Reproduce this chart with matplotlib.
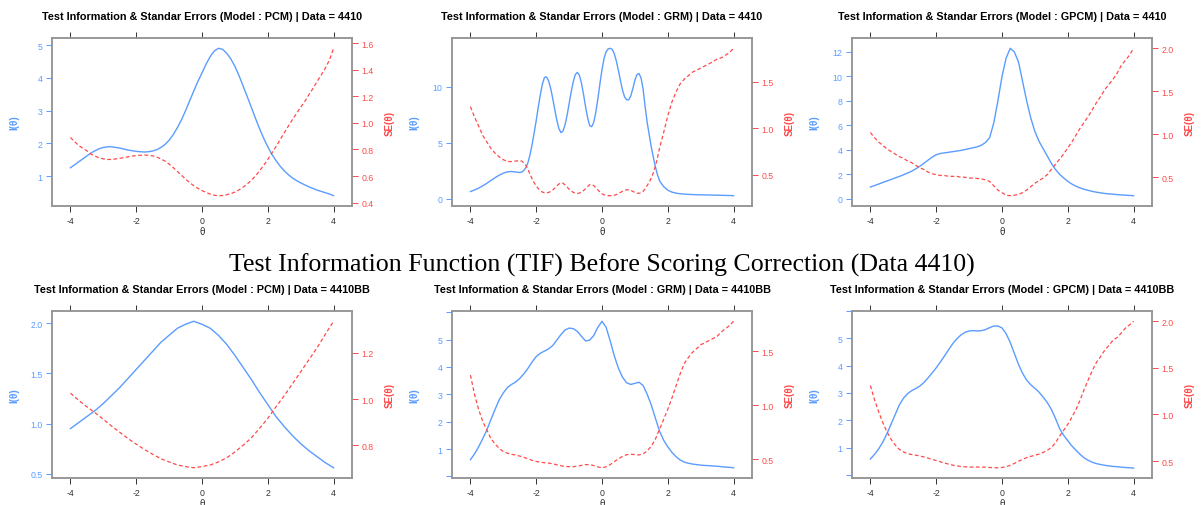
import numpy as np
import matplotlib
matplotlib.use("Agg")
from matplotlib import pyplot as plt

# theta grids
theta_coarse = np.linspace(-4, 4, 33)   # step 0.25
theta_fine = np.linspace(-4, 4, 65)     # step 0.125
# GRM 4410 has narrow peaks, so it is read more densely in the middle
theta_grm = np.concatenate([np.linspace(-4, -2.625, 12),
                            np.linspace(-2.5, 1.6875, 68),
                            np.linspace(1.75, 4, 19)])

# ---- Data 4410 ----
pcm_info = [1.26, 1.35, 1.44, 1.53, 1.62, 1.71, 1.78, 1.84, 1.88, 1.90, 1.90, 1.88, 1.86,
            1.83, 1.80, 1.78, 1.76, 1.75, 1.74, 1.75, 1.77, 1.81, 1.88, 1.97, 2.10, 2.27,
            2.48, 2.72, 3.00, 3.30, 3.60, 3.89, 4.15, 4.42, 4.65, 4.82, 4.90, 4.87, 4.75,
            4.58, 4.35, 4.07, 3.75, 3.43, 3.10, 2.77, 2.45, 2.16, 1.90, 1.67, 1.48, 1.31,
            1.17, 1.05, 0.95, 0.87, 0.80, 0.74, 0.68, 0.63, 0.58, 0.54, 0.50, 0.46, 0.41]
pcm_se = [0.89, 0.86, 0.83, 0.81, 0.79, 0.765, 0.75, 0.737, 0.729, 0.725, 0.725, 0.729,
          0.733, 0.739, 0.745, 0.75, 0.754, 0.756, 0.758, 0.756, 0.752, 0.743, 0.729,
          0.712, 0.69, 0.664, 0.635, 0.606, 0.577, 0.55, 0.527, 0.507, 0.491, 0.476,
          0.464, 0.455, 0.452, 0.453, 0.459, 0.467, 0.479, 0.496, 0.516, 0.54, 0.568,
          0.601, 0.639, 0.68, 0.725, 0.774, 0.822, 0.874, 0.925, 0.976, 1.026, 1.072,
          1.118, 1.162, 1.213, 1.26, 1.313, 1.361, 1.414, 1.474, 1.562]

grm_info = [0.66, 0.80, 0.97, 1.17, 1.40, 1.65, 1.90, 2.12, 2.30, 2.42, 2.45, 2.40,
            2.36, 2.40, 2.55, 2.80, 3.25, 3.95, 4.85, 5.90, 7.00, 8.20, 9.30, 10.25, 10.85,
            10.90, 10.55, 9.90, 9.00, 8.00, 7.05, 6.30, 5.92, 6.05, 6.60, 7.45, 8.50, 9.55,
            10.45, 11.10, 11.30, 11.05, 10.35, 9.35, 8.25, 7.25, 6.55, 6.45, 6.85, 7.75, 8.95,
            10.30, 11.55, 12.55, 13.15, 13.40, 13.45, 13.35, 12.95, 12.30, 11.45, 10.55, 9.70,
            9.10, 8.85, 8.85, 9.20, 9.85, 10.60, 11.10, 11.20, 10.80, 9.80, 8.20, 6.80, 5.70,
            4.60, 3.70, 2.85, 2.15,
            1.62, 1.10, 0.78, 0.61, 0.52, 0.46, 0.43, 0.41, 0.39, 0.38, 0.37, 0.36, 0.35,
            0.34, 0.33, 0.325, 0.315, 0.305, 0.29]
grm_se = [1.23, 1.12, 1.02, 0.92, 0.85, 0.78, 0.73, 0.69, 0.66, 0.64, 0.64, 0.645,
          0.651, 0.645, 0.626, 0.598, 0.555, 0.503, 0.454, 0.412, 0.378, 0.349, 0.328, 0.312,
          0.304, 0.303, 0.308, 0.318, 0.333, 0.354, 0.377, 0.398, 0.411, 0.407, 0.389, 0.366,
          0.343, 0.324, 0.309, 0.300, 0.297, 0.301, 0.311, 0.327, 0.348, 0.371, 0.391, 0.394,
          0.382, 0.359, 0.334, 0.312, 0.294, 0.282, 0.276, 0.273, 0.273, 0.274, 0.278, 0.285,
          0.296, 0.308, 0.321, 0.331, 0.336, 0.336, 0.330, 0.319, 0.307, 0.300, 0.299, 0.304,
          0.319, 0.349, 0.383, 0.419, 0.466, 0.520, 0.592, 0.682,
          0.786, 0.953, 1.132, 1.280, 1.387, 1.474, 1.525, 1.562, 1.601, 1.622, 1.644, 1.667,
          1.690, 1.715, 1.741, 1.754, 1.782, 1.811, 1.857]

gpcm_info = [0.96, 1.08, 1.20, 1.33, 1.45, 1.57, 1.70, 1.82, 1.95, 2.10, 2.25, 2.44, 2.65,
             2.90, 3.15, 3.40, 3.60, 3.70, 3.75, 3.80, 3.85, 3.90, 3.95, 4.02, 4.10, 4.17,
             4.25, 4.38, 4.60, 5.00, 6.20, 8.00, 10.0, 11.5, 12.3, 12.0, 11.2, 9.60, 8.00,
             6.60, 5.50, 4.70, 4.10, 3.50, 2.90, 2.40, 2.00, 1.70, 1.42, 1.20, 1.02, 0.88,
             0.77, 0.68, 0.60, 0.53, 0.48, 0.43, 0.40, 0.37, 0.34, 0.31, 0.29, 0.27, 0.25]
gpcm_se = [1.02, 0.96, 0.91, 0.87, 0.83, 0.80, 0.77, 0.74, 0.72, 0.69, 0.67, 0.64, 0.61,
           0.59, 0.56, 0.54, 0.53, 0.52, 0.52, 0.51, 0.51, 0.51, 0.50, 0.50, 0.49, 0.49,
           0.485, 0.48, 0.47, 0.45, 0.40, 0.35, 0.32, 0.29, 0.285, 0.29, 0.30, 0.32, 0.35,
           0.39, 0.43, 0.46, 0.49, 0.53, 0.59, 0.65, 0.71, 0.77, 0.84, 0.91, 0.99, 1.07,
           1.14, 1.21, 1.29, 1.37, 1.44, 1.52, 1.58, 1.64, 1.71, 1.80, 1.86, 1.92, 2.00]

# ---- Data 4410BB ----
pcm_bb_info = [0.95, 1.01, 1.07, 1.13, 1.20, 1.28, 1.36, 1.45, 1.54, 1.63, 1.72, 1.81, 1.88,
               1.95, 1.99, 2.02, 1.99, 1.95, 1.88, 1.79, 1.68, 1.56, 1.44, 1.31, 1.19, 1.07,
               0.97, 0.88, 0.80, 0.73, 0.67, 0.61, 0.56]
pcm_bb_se = [1.026, 0.995, 0.967, 0.941, 0.913, 0.884, 0.857, 0.830, 0.806, 0.783, 0.762,
             0.743, 0.729, 0.716, 0.709, 0.704, 0.709, 0.716, 0.729, 0.747, 0.772, 0.801,
             0.833, 0.874, 0.917, 0.967, 1.015, 1.066, 1.118, 1.170, 1.222, 1.280, 1.336]

grm_bb_info = [0.61, 0.82, 1.08, 1.38, 1.70, 2.08, 2.45, 2.80, 3.05, 3.25, 3.36, 3.45, 3.58,
               3.75, 3.95, 4.18, 4.38, 4.50, 4.58, 4.66, 4.78, 4.98, 5.18, 5.35, 5.42, 5.40,
               5.30, 5.12, 4.95, 4.98, 5.15, 5.45, 5.67, 5.45, 4.95, 4.40, 3.95, 3.62, 3.42,
               3.36, 3.40, 3.44, 3.32, 3.00, 2.60, 2.12, 1.65, 1.32, 1.08, 0.88, 0.72, 0.60,
               0.52, 0.48, 0.45, 0.43, 0.41, 0.40, 0.39, 0.38, 0.37, 0.355, 0.34, 0.33, 0.315]
grm_bb_se = [1.28, 1.10, 0.96, 0.85, 0.77, 0.69, 0.64, 0.60, 0.57, 0.555, 0.545, 0.538, 0.528,
             0.516, 0.503, 0.489, 0.478, 0.471, 0.467, 0.463, 0.457, 0.448, 0.439, 0.432,
             0.43, 0.43, 0.434, 0.442, 0.449, 0.448, 0.441, 0.428, 0.42, 0.428, 0.449, 0.477,
             0.503, 0.526, 0.541, 0.545, 0.542, 0.539, 0.549, 0.577, 0.62, 0.687, 0.778, 0.87,
             0.962, 1.066, 1.179, 1.291, 1.387, 1.443, 1.491, 1.525, 1.562, 1.58, 1.60, 1.62,
             1.64, 1.68, 1.71, 1.74, 1.78]

gpcm_bb_info = [0.58, 0.75, 0.95, 1.20, 1.50, 1.85, 2.20, 2.55, 2.80, 2.97, 3.08, 3.16, 3.25,
                3.38, 3.55, 3.73, 3.92, 4.13, 4.35, 4.58, 4.80, 4.98, 5.12, 5.22, 5.27, 5.28,
                5.27, 5.28, 5.32, 5.39, 5.45, 5.45, 5.38, 5.17, 4.85, 4.45, 4.05, 3.72, 3.47,
                3.30, 3.17, 3.03, 2.85, 2.65, 2.40, 2.07, 1.70, 1.45, 1.25, 1.06, 0.90, 0.75,
                0.62, 0.53, 0.46, 0.41, 0.38, 0.35, 0.33, 0.31, 0.30, 0.285, 0.27, 0.26, 0.25]
gpcm_bb_se = [1.31, 1.155, 1.03, 0.913, 0.816, 0.735, 0.674, 0.626, 0.598, 0.58, 0.57, 0.563,
              0.555, 0.544, 0.531, 0.518, 0.505, 0.492, 0.479, 0.467, 0.456, 0.448, 0.442,
              0.438, 0.436, 0.435, 0.436, 0.435, 0.434, 0.431, 0.428, 0.428, 0.431, 0.44,
              0.454, 0.474, 0.497, 0.518, 0.537, 0.55, 0.562, 0.574, 0.592, 0.614, 0.645,
              0.695, 0.767, 0.83, 0.894, 0.971, 1.054, 1.155, 1.27, 1.374, 1.474, 1.562,
              1.622, 1.69, 1.741, 1.796, 1.826, 1.873, 1.925, 1.961, 2.00]

x_ticks = [-4, -2, 0, 2, 4]

BLUE = "#5b9cff"
RED = "#ff4a4a"
FRAME = "#959595"
SANS = "Liberation Sans"

fig = plt.figure(figsize=(12.03, 5.06), dpi=100)
W, H = 1203.0, 506.0


def pad_lim(vals, frac=0.07):
    lo, hi = min(vals), max(vals)
    p = (hi - lo) * frac
    return lo - p, hi + p


def panel(x0, y_top, y_bot, theta, info, se, title, left_ticks, left_labeled, right_ticks):
    h = y_bot - y_top
    ax = fig.add_axes([x0 / W, 1 - y_bot / H, 300 / W, h / H])
    ax.plot(theta, info, color=BLUE, lw=1.0)
    ax.set_xlim(*pad_lim(theta))
    ax.set_ylim(*pad_lim(info))
    ax.set_xticks(x_ticks)
    ax.set_xticklabels([str(t) for t in x_ticks], fontsize=6.3, color="#333333", family=SANS)
    ax.tick_params(axis="x", which="both", direction="out", length=4, width=0.7,
                   color="#333333", top=True, labeltop=False, pad=3)
    ax.set_yticks(left_ticks)
    ax.set_yticklabels([str(t) if t in left_labeled else "" for t in left_ticks],
                       fontsize=6.3, color=BLUE, family=SANS)
    ax.tick_params(axis="y", direction="out", length=4, width=0.7, color=BLUE, pad=3)
    for s in ax.spines.values():
        s.set_color(FRAME)
        s.set_linewidth(1.1)
    ax.set_ylabel("I(θ)", color=BLUE, fontsize=7, family=SANS, fontweight="bold")
    ax.yaxis.set_label_coords(-33 / 300, 0.5)
    ax.set_xlabel("θ", color="#333333", fontsize=7, family=SANS)
    ax.xaxis.set_label_coords(0.5, -20 / h)
    ax.set_title(title, fontsize=7.85, fontweight="bold", family=SANS, pad=14)

    ax2 = ax.twinx()
    ax2.plot(theta, se, color=RED, lw=0.9, ls=(0, (3, 2)))
    ax2.set_ylim(*pad_lim(se))
    ax2.set_yticks(right_ticks)
    ax2.set_yticklabels(["%.1f" % t for t in right_ticks], fontsize=6.3, color=RED, family=SANS)
    ax2.tick_params(axis="y", direction="out", length=4, width=0.7, color=RED, pad=3)
    for s in ax2.spines.values():
        s.set_color(FRAME)
        s.set_linewidth(1.1)
    ax2.set_ylabel("SE(θ)", color=RED, fontsize=7, family=SANS, fontweight="bold")
    ax2.yaxis.set_label_coords(1 + 33 / 300, 0.5)


cols = [52, 452, 852]

panel(cols[0], 39, 207, theta_fine, pcm_info, pcm_se,
      "Test Information & Standar Errors (Model : PCM) | Data = 4410",
      [1, 2, 3, 4, 5], [1, 2, 3, 4, 5], [0.4, 0.6, 0.8, 1.0, 1.2, 1.4, 1.6])
panel(cols[1], 39, 207, theta_grm, grm_info, grm_se,
      "Test Information & Standar Errors (Model : GRM) | Data = 4410",
      [0, 5, 10], [0, 5, 10], [0.5, 1.0, 1.5])
panel(cols[2], 39, 207, theta_fine, gpcm_info, gpcm_se,
      "Test Information & Standar Errors (Model : GPCM) | Data = 4410",
      [0, 2, 4, 6, 8, 10, 12], [0, 2, 4, 6, 8, 10, 12], [0.5, 1.0, 1.5, 2.0])

panel(cols[0], 312, 479, theta_coarse, pcm_bb_info, pcm_bb_se,
      "Test Information & Standar Errors (Model : PCM) | Data = 4410BB",
      [0.5, 1.0, 1.5, 2.0], [0.5, 1.0, 1.5, 2.0], [0.8, 1.0, 1.2])
panel(cols[1], 312, 479, theta_fine, grm_bb_info, grm_bb_se,
      "Test Information & Standar Errors (Model : GRM) | Data = 4410BB",
      [0, 1, 2, 3, 4, 5, 6], [1, 2, 3, 4, 5], [0.5, 1.0, 1.5])
panel(cols[2], 312, 479, theta_fine, gpcm_bb_info, gpcm_bb_se,
      "Test Information & Standar Errors (Model : GPCM) | Data = 4410BB",
      [0, 1, 2, 3, 4, 5, 6], [1, 2, 3, 4, 5], [0.5, 1.0, 1.5, 2.0])

fig.text(0.5, 1 - 272 / H, "Test Information Function (TIF) Before Scoring Correction (Data 4410)",
         ha="center", va="baseline", fontsize=18.6, family="Liberation Serif")

fig.savefig("out.png", dpi=100)
